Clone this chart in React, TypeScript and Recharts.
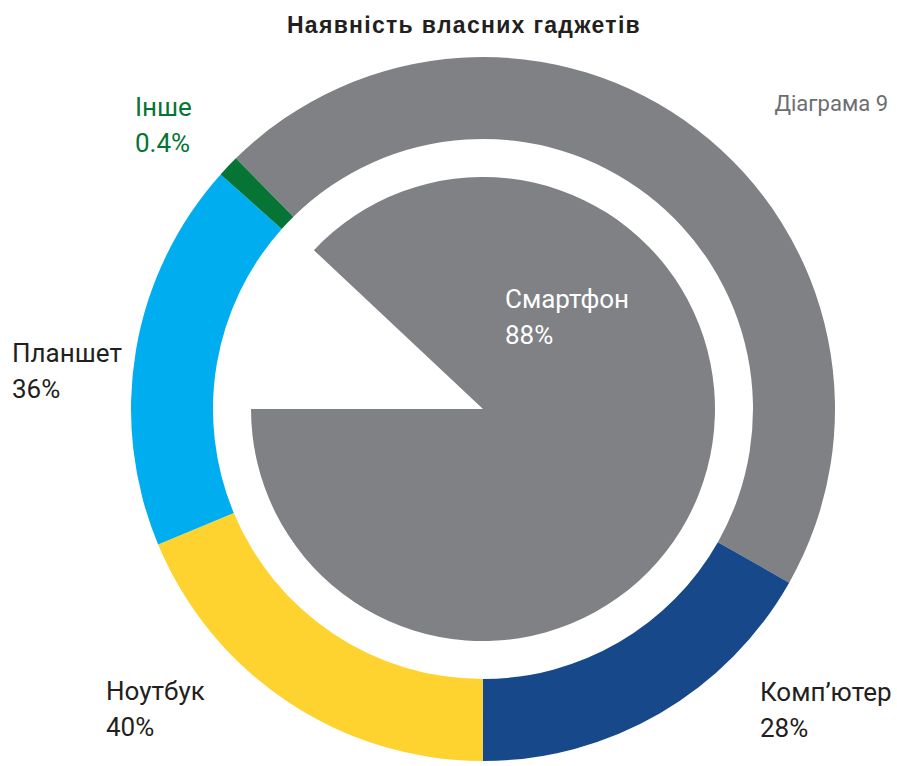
import React from 'react';
import { PieChart, Pie, Cell } from 'recharts';

// outer ring: gadgets, clockwise from the top-left
const gadgetNames = ['Смартфон', 'Комп’ютер', 'Ноутбук', 'Планшет', 'Інше'];
const gadgetPercents = ['88%', '28%', '40%', '36%', '0.4%'];
// share of the ring each arc takes in the picture
const ringShares = [45.6, 16.8, 18.7, 17.9, 1.0];
const ringColors = ['#808184', '#17488a', '#fed330', '#00aeef', '#067434'];

// inner pie: smartphone owners vs the rest
const smartphoneSplit = [12, 88];
const innerColors = ['transparent', '#808184'];

const ringData = gadgetNames.map((name, i) => ({ name, value: ringShares[i] }));
const innerData = smartphoneSplit.map((value, i) => ({ name: i ? 'yes' : 'no', value }));

const labelPos: Record<string, { x: number; y: number; color: string }> = {
  'Смартфон': { x: 505, y: 308, color: '#ffffff' },
  'Комп’ютер': { x: 760, y: 701, color: '#231f20' },
  'Ноутбук': { x: 106, y: 700, color: '#231f20' },
  'Планшет': { x: 12, y: 362, color: '#231f20' },
  'Інше': { x: 135, y: 116, color: '#067434' },
};

const labelFont = "Roboto, sans-serif";

export default function App() {
  return (
    <div style={{ position: 'absolute', left: 0, top: 0, width: 897, height: 766, background: '#fff' }}>
      <PieChart width={897} height={766} margin={{ top: 0, right: 0, bottom: 0, left: 0 }}>
        <Pie
          data={innerData}
          dataKey="value"
          cx={483}
          cy={409}
          outerRadius={232}
          startAngle={180}
          endAngle={-180}
          stroke="none"
          isAnimationActive={false}
        >
          {innerData.map((d, i) => (
            <Cell key={d.name} fill={innerColors[i]} />
          ))}
        </Pie>
        <Pie
          data={ringData}
          dataKey="value"
          cx={483}
          cy={409}
          innerRadius={270}
          outerRadius={352}
          startAngle={134.6}
          endAngle={-225.4}
          stroke="none"
          isAnimationActive={false}
        >
          {ringData.map((d, i) => (
            <Cell key={d.name} fill={ringColors[i]} />
          ))}
        </Pie>
      </PieChart>
      <svg
        width={897}
        height={766}
        style={{ position: 'absolute', left: 0, top: 0, pointerEvents: 'none' }}
      >
        <text
          x={464}
          y={33}
          textAnchor="middle"
          fontFamily="'Liberation Sans', Arial, sans-serif"
          fontWeight="bold"
          fontSize={23}
          letterSpacing={1.3}
          fill="#231f20"
        >
          Наявність власних гаджетів
        </text>
        <text x={888} y={111} textAnchor="end" fontFamily="Roboto, sans-serif" fontSize={22} fill="#6d6e71">
          Діаграма 9
        </text>
        {gadgetNames.map((name, i) => {
          const p = labelPos[name];
          return (
            <text key={name} x={p.x} y={p.y} fontFamily={labelFont} fontSize={26} fill={p.color}>
              <tspan x={p.x}>{name}</tspan>
              <tspan x={p.x} dy={36}>{gadgetPercents[i]}</tspan>
            </text>
          );
        })}
      </svg>
    </div>
  );
}
